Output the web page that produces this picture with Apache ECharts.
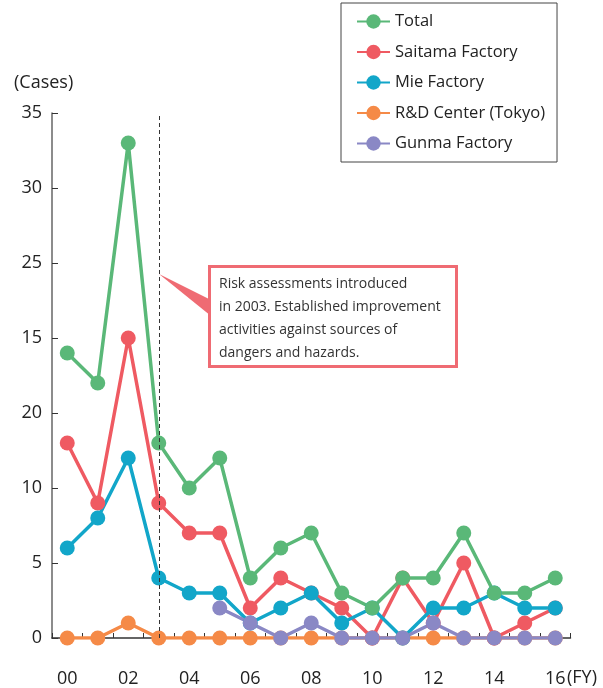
<!DOCTYPE html>
<html><head><meta charset="utf-8">
<script src="https://cdn.jsdelivr.net/npm/echarts@6/dist/echarts.min.js"></script>
<style>html,body{margin:0;padding:0;background:#fff}#c{width:603px;height:688px}</style>
</head><body><div id="c"></div>
<script>
var years = ['00','01','02','03','04','05','06','07','08','09','10','11','12','13','14','15','16'];
var yTickLabels = ['0','5','10','20','15','25','30','35'];
var total   = [19,17,33,13,10,12,4,6,7,3,2,4,4,7,3,3,4];
var saitama = [13,9,20,9,7,7,2,4,3,2,0,4,1,5,0,1,2];
var mie     = [6,8,12,4,3,3,1,2,3,1,2,0,2,2,3,2,2];
var rnd     = [0,0,1,0,0,0,0,0,0,0,0,0,0,0,0,0,0];
var gunma   = [null,null,null,null,null,2,1,0,1,0,0,0,1,0,0,0,0];
var noteText = 'Risk assessments introduced\nin 2003. Established improvement\nactivities against sources of\ndangers and hazards.';

var FONT = '"Open Sans", "Noto Sans", sans-serif';
var chart = echarts.init(document.getElementById('c'));
function mk(name, data, color) {
  return {name:name, type:'line', data:data, symbol:'circle', symbolSize:15,
    lineStyle:{width:3.5,color:color}, itemStyle:{color:color}, connectNulls:false, animation:false};
}
var sR = mk('R&D Center (Tokyo)', rnd, '#f58a47');
sR.markLine = {silent:true, symbol:['none','none'], label:{show:false},
  lineStyle:{type:[4,3], color:'#333', width:1}, data:[{xAxis:'03'}]};
chart.setOption({
  animation:false,
  textStyle:{fontFamily:FONT},
  grid:{left:52, right:32.5, top:113, bottom:50},
  legend:{
    data:['Total','Saitama Factory','Mie Factory','R&D Center (Tokyo)','Gunma Factory'],
    orient:'vertical', left:341, top:3, padding:[10,12,10,15],
    itemWidth:33, itemHeight:18, itemGap:13.5,
    borderColor:'#444', borderWidth:1,
    textStyle:{fontSize:16.5, color:'#222', fontFamily:FONT}
  },
  xAxis:{
    type:'category', data:years, boundaryGap:true,
    axisLine:{lineStyle:{color:'#333', width:1.5}},
    axisTick:{show:true, inside:true, length:5, interval:0, lineStyle:{color:'#333'}},
    axisLabel:{interval:1, fontSize:18, color:'#222', margin:32},
    splitLine:{show:false}
  },
  yAxis:{
    type:'value', min:0, max:35, interval:5,
    axisLine:{show:true, lineStyle:{color:'#666', width:1.5}},
    axisTick:{show:true, inside:true, length:6, lineStyle:{color:'#333'}},
    axisLabel:{fontSize:18, color:'#222', margin:10, formatter:function(v){return yTickLabels[Math.round(v/5)];}},
    splitLine:{show:false}
  },
  graphic:[
    {type:'text', left:14, top:74, style:{text:'(Cases)', fontSize:18, fill:'#222', fontFamily:FONT}},
    {type:'text', left:567, top:669, style:{text:'(FY)', fontSize:18, fill:'#222', fontFamily:FONT}},
    {type:'polygon', shape:{points:[[159,274],[211,300],[211,316]]}, style:{fill:'#ef6b73'}, z:10},
    {type:'rect', shape:{x:209.5, y:266.5, width:247, height:100}, style:{fill:'#fff', stroke:'#ef6b73', lineWidth:3}, z:10},
    {type:'text', left:219, top:273, z:11, style:{text:noteText, fontSize:14, lineHeight:23, fill:'#333', fontFamily:FONT}}
  ],
  series:[
    sR,
    mk('Saitama Factory', saitama, '#ef5a62'),
    mk('Mie Factory', mie, '#12a6c9'),
    mk('Gunma Factory', gunma, '#8a88c5'),
    mk('Total', total, '#5ab878')
  ]
});
</script></body></html>
